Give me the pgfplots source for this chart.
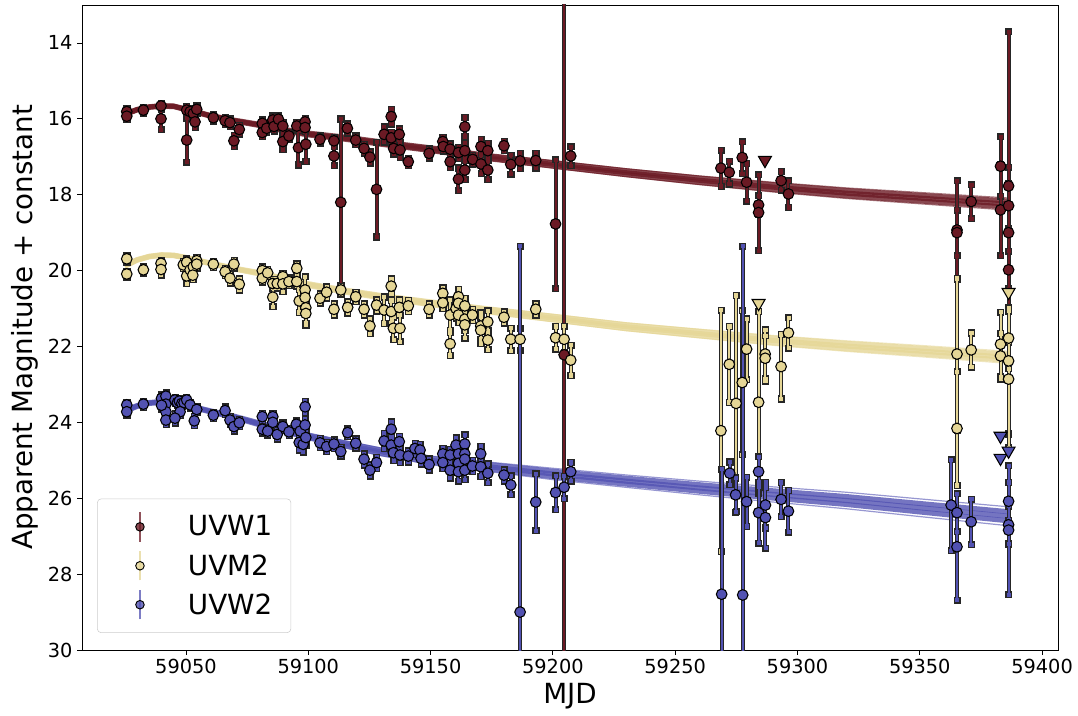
\documentclass[border=0pt]{standalone}
\usepackage{fontspec}
\setmainfont{DejaVu Sans}
\usepackage{pgfplots}
\usepackage{pgfplotstable}
\pgfplotsset{compat=1.18}
\definecolor{cw1}{RGB}{107,26,36}
\definecolor{cm2}{RGB}{229,214,150}
\definecolor{cw2}{RGB}{82,82,178}

% model curves (several realisations per band)
\pgfplotstableread{
t a b c d e
59025 15.864 15.872 15.88 15.888 15.896
59030 15.744 15.752 15.76 15.768 15.776
59035 15.674 15.682 15.69 15.698 15.706
59040 15.644 15.652 15.66 15.668 15.676
59045 15.654 15.662 15.67 15.678 15.686
59050 15.734 15.742 15.75 15.758 15.766
59060 15.901 15.910 15.92 15.930 15.939
59070 16.026 16.038 16.05 16.062 16.074
59080 16.128 16.144 16.16 16.176 16.192
59090 16.26 16.28 16.30 16.32 16.34
59100 16.352 16.376 16.40 16.424 16.448
59115 16.454 16.482 16.51 16.538 16.566
59130 16.576 16.608 16.64 16.672 16.704
59150 16.728 16.764 16.80 16.836 16.872
59175 16.94 16.98 17.02 17.06 17.10
59200 17.104 17.152 17.20 17.248 17.296
59230 17.316 17.368 17.42 17.472 17.524
59260 17.505 17.562 17.62 17.678 17.735
59290 17.672 17.736 17.80 17.864 17.928
59320 17.821 17.890 17.96 18.030 18.099
59350 17.941 18.016 18.09 18.164 18.239
59387 18.09 18.17 18.25 18.33 18.41
}\modelwone
\pgfplotstableread{
t a b c d e
59025 19.864 19.872 19.88 19.888 19.896
59030 19.704 19.712 19.72 19.728 19.736
59035 19.614 19.622 19.63 19.638 19.646
59040 19.574 19.582 19.59 19.598 19.606
59045 19.584 19.592 19.60 19.608 19.616
59050 19.644 19.652 19.66 19.668 19.676
59060 19.791 19.800 19.81 19.820 19.829
59070 19.926 19.938 19.95 19.962 19.974
59080 20.038 20.054 20.07 20.086 20.102
59090 20.18 20.20 20.22 20.24 20.26
59100 20.322 20.346 20.37 20.394 20.418
59115 20.484 20.512 20.54 20.568 20.596
59130 20.626 20.658 20.69 20.722 20.754
59150 20.788 20.824 20.86 20.896 20.932
59175 20.98 21.02 21.06 21.10 21.14
59200 21.154 21.202 21.25 21.298 21.346
59230 21.376 21.428 21.48 21.532 21.584
59260 21.545 21.602 21.66 21.718 21.775
59290 21.712 21.776 21.84 21.904 21.968
59320 21.851 21.920 21.99 22.060 22.129
59350 21.971 22.046 22.12 22.194 22.269
59387 22.13 22.21 22.29 22.37 22.45
}\modelmtwo
\pgfplotstableread{
t a b c d e
59025 23.675 23.688 23.70 23.712 23.725
59030 23.545 23.558 23.57 23.582 23.595
59035 23.465 23.478 23.49 23.502 23.515
59040 23.435 23.448 23.46 23.472 23.485
59045 23.455 23.468 23.48 23.492 23.505
59050 23.525 23.538 23.55 23.562 23.575
59060 23.68 23.696 23.71 23.724 23.74
59070 23.822 23.842 23.86 23.878 23.898
59080 23.99 24.016 24.04 24.064 24.09
59090 24.147 24.18 24.21 24.24 24.273
59100 24.295 24.334 24.37 24.406 24.445
59115 24.492 24.538 24.58 24.622 24.668
59130 24.68 24.732 24.78 24.828 24.88
59150 24.887 24.946 25.00 25.054 25.113
59175 25.055 25.12 25.18 25.24 25.305
59200 25.21 25.288 25.36 25.432 25.51
59230 25.387 25.472 25.55 25.628 25.713
59260 25.55 25.644 25.73 25.816 25.91
59290 25.70 25.804 25.90 25.996 26.10
59320 25.842 25.956 26.06 26.164 26.278
59350 26.017 26.138 26.25 26.362 26.483
59387 26.23 26.36 26.48 26.60 26.73
}\modelwtwo

% photometry: MJD, magnitude, error
\pgfplotstableread{
x y e
59025.8 15.81 0.08
59025.8 15.93 0.08
59032.6 15.77 0.08
59039.8 15.66 0.08
59039.8 16.00 0.28
59050.3 15.77 0.10
59050.3 16.56 0.58
59051.7 15.81 0.08
59053.0 15.86 0.08
59054.4 15.75 0.10
59053.7 16.08 0.15
59061.2 15.97 0.08
59066.0 16.05 0.10
59068.0 16.10 0.10
59071.8 16.28 0.12
59069.6 16.58 0.15
59081.2 16.12 0.10
59081.2 16.36 0.10
59083.0 16.25 0.10
59085.5 16.03 0.12
59086.0 16.20 0.12
59087.8 16.01 0.10
59089.6 16.19 0.10
59089.6 16.60 0.20
59092.1 16.45 0.10
59095.3 16.19 0.10
59096.0 16.76 0.45
59098.7 16.08 0.10
59098.7 16.23 0.10
59099.0 16.67 0.45
59104.8 16.54 0.10
59110.5 16.58 0.10
59110.5 16.98 0.25
59113.3 18.20 2.20
59116.0 16.25 0.12
59119.4 16.56 0.12
59122.8 16.78 0.12
59125.2 17.01 0.15
59127.9 17.86 1.25
59131.0 16.41 0.20
59133.9 15.94 0.20
59133.9 16.50 0.15
59134.9 16.78 0.15
59137.2 16.41 0.15
59137.5 16.82 0.20
59140.9 17.13 0.10
59149.4 16.91 0.12
59155.0 16.60 0.12
59155.2 16.73 0.12
59158.0 16.80 0.15
59158.0 17.13 0.15
59161.4 16.89 0.15
59161.4 17.59 0.30
59164.0 16.21 0.25
59164.0 16.84 0.20
59164.0 17.35 0.25
59167.2 17.07 0.12
59170.6 16.73 0.20
59170.6 17.19 0.25
59173.4 16.84 0.20
59173.4 17.35 0.25
59180.0 16.71 0.12
59182.8 17.20 0.25
59186.6 17.11 0.20
59193.0 17.10 0.20
59201.1 18.77 1.70
59204.6 22.22 10.0
59207.3 16.98 0.25
59268.7 17.30 0.48
59272.1 17.41 0.30
59277.4 17.02 0.42
59279.2 17.67 0.50
59284.1 18.27 0.25
59284.1 18.47 1.00
59293.3 17.63 0.25
59296.3 17.98 0.35
59365.2 18.93 1.30
59365.2 19.00 0.60
59371.0 18.18 0.45
59383.0 17.25 0.78
59383.0 18.40 1.20
59386.3 17.77 0.50
59386.3 18.29 0.60
59386.3 19.00 5.30
59386.3 19.98 0.50
}\datawone
\pgfplotstableread{
x y e
59025.8 19.69 0.08
59025.8 20.09 0.08
59032.6 19.98 0.08
59039.8 19.81 0.08
59039.8 19.97 0.15
59048.9 19.85 0.10
59050.3 19.78 0.10
59050.3 20.14 0.20
59051.7 19.98 0.10
59053.0 19.90 0.10
59054.4 19.74 0.10
59054.4 19.83 0.10
59052.8 20.12 0.12
59061.2 19.83 0.08
59066.0 20.03 0.10
59068.0 20.20 0.12
59069.6 19.83 0.10
59071.8 20.36 0.15
59081.2 20.00 0.10
59081.2 20.20 0.10
59083.4 20.06 0.10
59085.5 20.34 0.12
59085.5 20.70 0.25
59087.3 20.34 0.12
59089.6 20.16 0.10
59089.6 20.35 0.20
59092.1 20.29 0.10
59095.3 19.94 0.12
59095.3 20.29 0.12
59096.3 20.80 0.30
59098.7 20.51 0.35
59098.7 20.71 0.15
59099.0 20.98 0.40
59099.0 21.13 0.30
59104.8 20.73 0.12
59107.5 20.57 0.15
59110.5 21.02 0.15
59113.3 20.51 0.10
59116.1 20.97 0.15
59119.4 20.69 0.12
59122.8 21.02 0.15
59125.2 21.46 0.20
59127.9 20.91 0.15
59131.0 21.04 0.35
59133.9 20.41 0.20
59133.9 21.08 0.30
59134.8 21.52 0.30
59137.2 20.97 0.20
59137.5 21.52 0.35
59140.9 20.93 0.15
59149.4 21.02 0.15
59155.0 20.60 0.15
59155.0 20.85 0.15
59158.0 21.17 0.40
59158.0 21.93 0.30
59160.4 21.00 0.25
59161.4 20.69 0.20
59161.4 20.86 0.20
59161.4 21.17 0.20
59164.0 20.93 0.20
59164.0 21.28 0.30
59164.0 21.43 0.35
59167.1 21.17 0.15
59170.5 21.46 0.35
59170.5 21.57 0.35
59173.4 21.35 0.30
59173.4 21.83 0.25
59180.0 21.23 0.15
59182.8 21.81 0.30
59186.6 21.81 0.30
59193.0 21.02 0.15
59201.1 21.77 0.30
59204.6 21.81 0.35
59207.3 22.36 0.40
59268.7 24.22 3.18
59272.1 22.47 1.00
59274.9 23.50 2.85
59277.4 22.95 1.90
59279.2 22.07 0.80
59284.1 23.47 2.40
59286.8 22.20 0.65
59286.8 22.31 0.60
59293.3 22.53 0.85
59296.3 21.64 0.40
59365.2 22.20 2.00
59365.2 24.16 1.50
59371.0 22.09 0.45
59383.0 21.94 0.85
59383.0 22.25 0.60
59386.3 21.78 0.80
59386.3 22.38 0.50
59386.3 22.86 1.80
}\datamtwo
\pgfplotstableread{
x y e
59025.8 23.54 0.08
59025.8 23.72 0.08
59032.6 23.52 0.08
59040.0 23.37 0.10
59041.8 23.31 0.10
59041.8 23.52 0.10
59041.8 23.72 0.10
59040.0 23.55 0.10
59041.8 23.94 0.12
59045.5 23.41 0.08
59046.5 23.48 0.08
59047.3 23.44 0.08
59048.3 23.50 0.08
59049.2 23.48 0.08
59050.3 23.41 0.08
59051.7 23.54 0.08
59054.4 23.66 0.08
59047.6 23.72 0.10
59045.5 23.89 0.12
59053.4 23.96 0.12
59061.2 23.81 0.08
59066.0 23.69 0.10
59068.0 23.94 0.10
59069.6 24.11 0.12
59071.8 24.01 0.10
59081.2 23.85 0.10
59081.2 24.18 0.10
59083.4 24.23 0.10
59085.5 23.85 0.10
59085.5 24.00 0.10
59087.3 24.32 0.12
59089.6 24.11 0.10
59092.1 24.25 0.10
59095.1 24.05 0.10
59096.7 24.23 0.10
59096.3 24.53 0.20
59097.9 24.58 0.20
59098.7 23.59 0.15
59098.7 24.07 0.15
59099.0 24.40 0.20
59104.8 24.54 0.12
59107.5 24.64 0.12
59110.5 24.57 0.12
59113.3 24.77 0.12
59116.1 24.27 0.10
59119.4 24.55 0.12
59122.8 24.97 0.15
59125.2 25.26 0.15
59127.9 25.06 0.15
59131.0 24.49 0.20
59133.9 24.18 0.20
59133.9 24.60 0.20
59134.8 24.80 0.20
59137.2 24.51 0.15
59137.5 24.86 0.20
59140.9 24.89 0.15
59143.6 24.69 0.15
59145.7 24.73 0.15
59146.1 24.95 0.15
59149.4 25.11 0.15
59155.0 24.83 0.15
59155.0 25.06 0.15
59158.0 24.86 0.15
59158.0 25.26 0.20
59160.4 24.60 0.20
59161.4 24.83 0.20
59161.4 25.08 0.20
59161.4 25.30 0.25
59164.0 24.57 0.25
59164.0 24.83 0.20
59164.0 24.97 0.20
59164.0 25.26 0.25
59167.1 25.15 0.15
59170.5 24.83 0.20
59170.5 25.17 0.25
59173.4 25.34 0.25
59180.0 25.39 0.15
59182.8 25.65 0.25
59186.6 29.00 9.65
59193.0 26.10 0.75
59201.1 25.85 0.45
59204.6 25.71 0.30
59207.3 25.30 0.25
59269.0 28.53 3.30
59272.3 25.34 0.30
59274.7 25.91 0.45
59277.6 28.55 9.20
59279.2 26.09 0.65
59284.1 25.30 0.40
59284.1 26.38 0.80
59286.9 26.18 0.60
59286.9 26.51 0.80
59293.3 26.03 0.45
59296.3 26.34 0.55
59362.8 26.18 1.20
59365.2 26.38 0.50
59365.2 27.28 1.40
59371.0 26.62 0.60
59386.3 26.08 0.50
59386.3 26.70 0.50
59386.3 26.84 1.70
}\datawtwo

\pgfplotsset{
  modelthick/.style={forget plot, no markers, line width=3.8pt, draw=#1, opacity=0.8},
  modelthin/.style={forget plot, no markers, line width=0.9pt, draw=#1, opacity=0.6},
  errback/.style={
    forget plot, only marks, mark=none,
    error bars/.cd, y dir=both, y explicit,
    error bar style={draw=black!85, line width=3pt},
    error mark=square*,
    error mark options={draw=black!85, fill=black!85, mark size=2.3pt},
  },
  errstyle/.style={
    only marks, mark=*, mark size=4pt,
    mark options={fill=#1, draw=black, line width=0.8pt},
    legend image code/.code={
      \path[draw=none,fill=none] (0pt,-13pt) rectangle (60pt,13pt);
      \draw[#1, opacity=0.75, line width=1.6pt] (26pt,-11pt) -- (26pt,11pt);
      \draw[fill=#1, draw=black, line width=0.7pt] (26pt,0pt) circle (3.2pt);
    },
    error bars/.cd, y dir=both, y explicit,
    error bar style={draw=#1, line width=1.5pt},
    error mark=square*,
    error mark options={fill=#1, draw=#1, mark size=1.2pt},
  },
  ulim/.style={forget plot, only marks, mark=triangle*, mark size=5.6pt,
    mark options={rotate=180, fill=#1, draw=black, line width=0.8pt}},
}

\begin{document}
\begin{tikzpicture}
\begin{axis}[
  name=ax, at={(0pt,0pt)}, anchor=south west,
  scale only axis, width=732pt, height=483.75pt,
  xmin=59007.5, xmax=59406.5, ymin=13, ymax=30, y dir=reverse,
  xtick={59050,59100,59150,59200,59250,59300,59350,59400},
  ytick={14,16,18,20,22,24,26,28,30},
  scaled x ticks=false,
  /pgf/number format/assume math mode=true,
  /pgf/number format/1000 sep={},
  tick label style={font=\fontsize{14.5}{17}\selectfont},
  label style={font=\fontsize{20.8}{25}\selectfont},
  xlabel={MJD}, ylabel={Apparent Magnitude + constant},
  tick align=outside, xtick pos=bottom, ytick pos=left,
  major tick length=3.65pt,
  every tick/.style={black, line width=0.6pt},
  axis line style={line width=0.6pt},
  legend cell align=left,
  legend style={at={(0.0154,0.0264)}, anchor=south west,
    font=\fontsize{20.8}{25}\selectfont,
    draw=black!20, rounded corners=3pt, fill=white, fill opacity=0.8, text opacity=1,
    inner xsep=6pt, inner ysep=8pt, row sep=3.2pt},
]
\addplot[modelthin=cw1] table[x=t,y=a]{\modelwone};
\addplot[modelthick=cw1] table[x=t,y=b]{\modelwone};
\addplot[modelthick=cw1] table[x=t,y=c]{\modelwone};
\addplot[modelthick=cw1] table[x=t,y=d]{\modelwone};
\addplot[modelthin=cw1] table[x=t,y=e]{\modelwone};
\addplot[modelthin=cm2] table[x=t,y=a]{\modelmtwo};
\addplot[modelthick=cm2] table[x=t,y=b]{\modelmtwo};
\addplot[modelthick=cm2] table[x=t,y=c]{\modelmtwo};
\addplot[modelthick=cm2] table[x=t,y=d]{\modelmtwo};
\addplot[modelthin=cm2] table[x=t,y=e]{\modelmtwo};
\addplot[modelthin=cw2] table[x=t,y=a]{\modelwtwo};
\addplot[modelthick=cw2] table[x=t,y=b]{\modelwtwo};
\addplot[modelthick=cw2] table[x=t,y=c]{\modelwtwo};
\addplot[modelthick=cw2] table[x=t,y=d]{\modelwtwo};
\addplot[modelthin=cw2] table[x=t,y=e]{\modelwtwo};

\addplot[errback] table[x=x,y=y,y error=e]{\datawone};
\addplot[errstyle=cw1] table[x=x,y=y,y error=e]{\datawone};
\addlegendentry{UVW1\hspace*{6pt}}
\addplot[errback] table[x=x,y=y,y error=e]{\datamtwo};
\addplot[errstyle=cm2] table[x=x,y=y,y error=e]{\datamtwo};
\addlegendentry{UVM2\hspace*{6pt}}
\addplot[errback] table[x=x,y=y,y error=e]{\datawtwo};
\addplot[errstyle=cw2] table[x=x,y=y,y error=e]{\datawtwo};
\addlegendentry{UVW2\hspace*{6pt}}

\addplot[ulim=cw1] coordinates {(59286.7,17.09)};
\addplot[ulim=cm2] coordinates {(59284.1,20.86) (59386.3,20.57)};
\addplot[ulim=cw2] coordinates {(59383.0,24.36) (59383.0,24.94) (59386.3,24.75)};
\end{axis}
\pgfresetboundingbox
\path (-61.5pt,-49.5pt) rectangle (747pt,487.5pt);
\end{tikzpicture}
\end{document}
